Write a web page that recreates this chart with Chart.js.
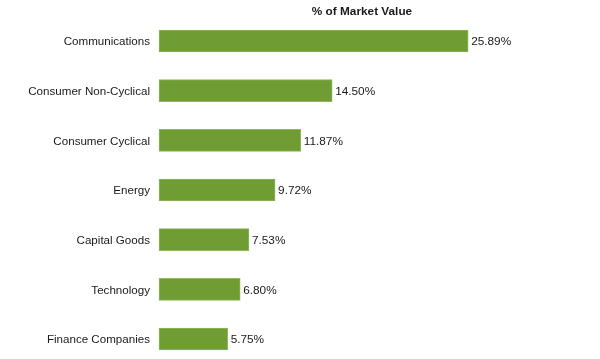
<!doctype html>
<html lang="en">
  <head>
    <meta charset="utf-8">
    <title>Market value by sector</title>
    <style>
      * {
        margin: 0;
        padding: 0;
      }
      body {
        background: #ffffff;
      }
      .chartBox {
        width: 600px;
        height: 359px;
      }
    </style>
  </head>
  <body>
    <div class="chartBox">
      <canvas id="myChart"></canvas>
    </div>
    <script src="https://cdn.jsdelivr.net/npm/chart.js"></script>
    <script>
    // data
    const sectors = ['Communications', 'Consumer Non-Cyclical', 'Consumer Cyclical', 'Energy', 'Capital Goods', 'Technology', 'Finance Companies'];
    const marketValue = [25.89, 14.50, 11.87, 9.72, 7.53, 6.80, 5.75];
    const seriesTitle = '% of Market Value';

    const fontFamily = '"Liberation Sans", Arial, Helvetica, sans-serif';
    const textColor = '#1a1a1a';

    // draws the value just past the end of each bar
    const valueLabels = {
      id: 'valueLabels',
      afterDatasetsDraw(chart) {
        const ctx = chart.ctx;
        const meta = chart.getDatasetMeta(0);
        ctx.save();
        ctx.font = '11.8px ' + fontFamily;
        ctx.fillStyle = textColor;
        ctx.textAlign = 'left';
        ctx.textBaseline = 'middle';
        meta.data.forEach((bar, i) => {
          ctx.fillText(marketValue[i].toFixed(2) + '%', bar.x + 3, bar.y + 1);
        });
        ctx.restore();
      }
    };

    const data = {
      labels: sectors,
      datasets: [{
        label: seriesTitle,
        data: marketValue,
        backgroundColor: '#6f9c33',
        borderColor: '#8fb75e',
        borderWidth: 1,
        borderSkipped: false,
        barThickness: 22,
        clip: false
      }]
    };

    const config = {
      type: 'bar',
      data,
      plugins: [valueLabels],
      options: {
        indexAxis: 'y',
        responsive: true,
        maintainAspectRatio: false,
        animation: false,
        layout: {
          padding: { top: 0, right: 35, bottom: 20, left: 0 }
        },
        plugins: {
          legend: { display: false },
          tooltip: { enabled: false }
        },
        scales: {
          x: {
            position: 'top',
            min: 0,
            max: 34,
            grid: { display: false, drawTicks: false },
            border: { display: false },
            ticks: { display: false },
            title: {
              display: true,
              text: seriesTitle,
              color: textColor,
              font: { family: fontFamily, size: 11.8, weight: 'bold' },
              padding: { top: 4.5, bottom: 0 }
            },
            afterFit(scale) { scale.height = 41; }
          },
          y: {
            offset: false,
            grid: { display: false, drawTicks: false },
            border: { display: false },
            ticks: {
              color: textColor,
              padding: 9,
              labelOffset: 1,
              font: { family: fontFamily, size: 11.6 }
            },
            afterFit(scale) { scale.width = 159; }
          }
        }
      }
    };

    const myChart = new Chart(document.getElementById('myChart'), config);
    </script>
  </body>
</html>
